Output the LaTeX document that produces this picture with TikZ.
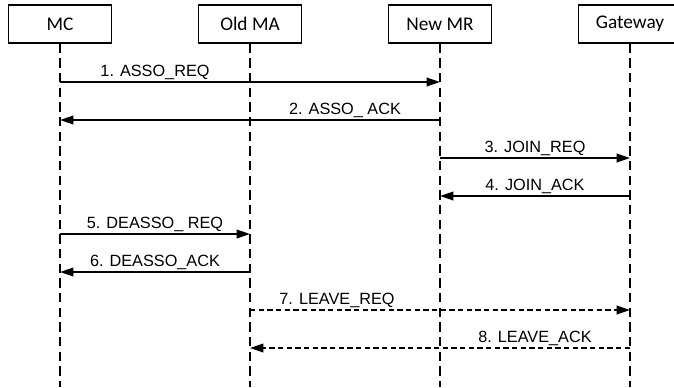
\documentclass[tikz,border=0pt]{standalone}
\usepackage{fontspec}
\setmainfont{Liberation Sans}
\newfontfamily\boxfont{Carlito}
\usetikzlibrary{arrows.meta, calc}

\begin{document}
\begin{tikzpicture}[
  x=0.75pt, y=-0.75pt,
  attore/.style={draw=black, line width=0.8pt, fill=white, inner sep=0pt,
                 minimum width=77.25pt, minimum height=28.5pt,
                 font=\boxfont\fontsize{14.5}{16}\selectfont},
  vita/.style={draw=black, line width=0.9pt, dash pattern=on 7pt off 4pt},
  msg/.style={draw=black, line width=1.1pt, -{Triangle[length=10pt,width=6.5pt]}},
  msgtratt/.style={msg, dash pattern=on 4pt off 2.5pt},
  etichetta/.style={font=\fontsize{12.2}{14}\selectfont, inner sep=0pt,
                    anchor=base, yshift=4pt}
]
\useasboundingbox (0,0) rectangle (674,387);

% ---- attori in testa alle linee di vita ----------------------------
\node[attore] (mc)    at (60,24)  {MC};
\node[attore] (oldma) at (250,24) {Old MA};
\node[attore] (newmr) at (440,24) {New MR};
\node[attore] (gw)    at (630,24) {Gateway};

\coordinate (fondo) at (0,387);
\foreach \n in {mc, oldma, newmr, gw}
  \draw[vita] (\n.south) -- (\n.south |- fondo);

% ---- righe dei messaggi e centri delle colonne ---------------------
\foreach \i/\y in {1/82, 2/120, 3/158, 4/196, 5/234, 6/272, 7/310, 8/348}
  \coordinate (r\i) at (0,\y);
\coordinate (m1) at ($(mc)!.5!(oldma)$);
\coordinate (m2) at ($(oldma)!.5!(newmr)$);
\coordinate (m3) at ($(newmr)!.5!(gw)$);

% ---- associazione ---------------------------------------------------
\draw[msg] (mc |- r1) -- (newmr |- r1);
\node[etichetta] (t1) at (m1 |- r1) {1. ASSO\_REQ};
\draw[msg] (newmr |- r2) -- (mc |- r2);
\node[etichetta] (t2) at (m2 |- r2) {2. ASSO\_ ACK};

% ---- join verso il gateway ------------------------------------------
\draw[msg] (newmr |- r3) -- (gw |- r3);
\node[etichetta] (t3) at (m3 |- r3) {3. JOIN\_REQ};
\draw[msg] (gw |- r4) -- (newmr |- r4);
\node[etichetta] (t4) at (m3 |- r4) {4. JOIN\_ACK};

% ---- disassociazione dal vecchio MA ---------------------------------
\draw[msg] (mc |- r5) -- (oldma |- r5);
\node[etichetta] (t5) at (m1 |- r5) {5. DEASSO\_ REQ};
\draw[msg] (oldma |- r6) -- (mc |- r6);
\node[etichetta] (t6) at (m1 |- r6) {6. DEASSO\_ACK};

% ---- leave (tratteggiato) -------------------------------------------
\draw[msgtratt] (oldma |- r7) -- (gw |- r7);
\node[etichetta, xshift=-6pt] (t7) at (m2 |- r7) {7. LEAVE\_REQ};
\draw[msgtratt] (gw |- r8) -- (oldma |- r8);
\node[etichetta] (t8) at (m3 |- r8) {8. LEAVE\_ACK};

\end{tikzpicture}
\end{document}
